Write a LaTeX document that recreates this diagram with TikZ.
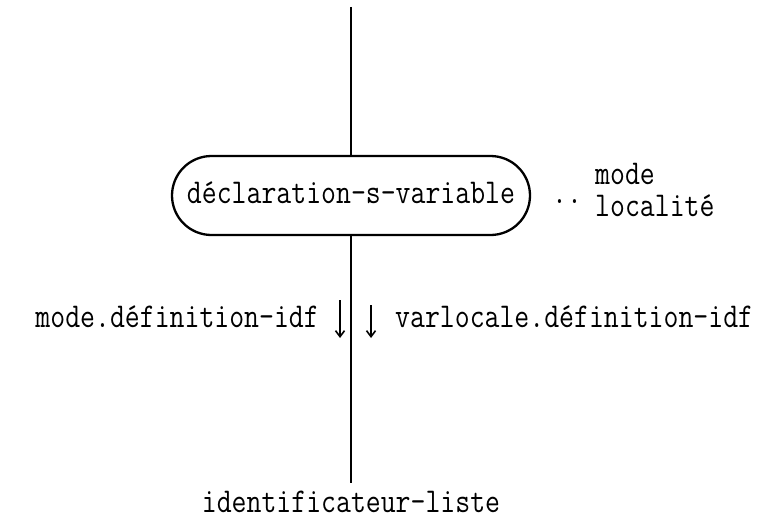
\documentclass[tikz,border=0pt]{standalone}
\usepackage{graphicx}
\usetikzlibrary{arrows.meta}
\newcommand{\mytt}[1]{\scalebox{0.832}[1]{\fontsize{34.8}{40}\selectfont\ttfamily #1}}
\tikzset{
  mainline/.style={line width=2.6pt},
  boxnode/.style={draw, line width=2.3pt, rounded corners=39.5pt, minimum width=358pt, minimum height=79pt, inner sep=0pt, text height=20pt, text depth=5pt},
  lbl/.style={inner sep=0pt},
  flowarrow/.style={line width=1.8pt, -{Straight Barb[length=6pt,width=9pt,line width=1.6pt]}}
}
\begin{document}
\begin{tikzpicture}[x=1pt,y=-1pt]
\useasboundingbox (0,0) rectangle (770,519);
\coordinate (top) at (351,7);
\node[boxnode] (decl) at (351,195.5) {\mytt{déclaration-s-variable}};
\node[lbl, anchor=base west] (dots) at (552,203) {\mytt{..}};
\node[lbl, anchor=base west] (mode) at (595,184) {\mytt{mode}};
\node[lbl, anchor=base west] (loc) at (595,216) {\mytt{localité}};
\coordinate (bot) at (351,483);
\node[lbl, anchor=base] (idl) at (351,512) {\mytt{identificateur-liste}};
\node[lbl, anchor=base east] (lmode) at (319,327) {\mytt{mode.définition-idf}};
\node[lbl, anchor=base west] (lvar) at (395,327) {\mytt{varlocale.définition-idf}};
\coordinate (a1s) at (340,300);
\coordinate (a1e) at (340,338);
\coordinate (a2s) at (371,305);
\coordinate (a2e) at (371,338);
\draw[mainline] (top) -- (decl.north);
\draw[mainline] (decl.south) -- (bot);
\draw[flowarrow] (a1s) -- (a1e);
\draw[flowarrow] (a2s) -- (a2e);
\end{tikzpicture}
\end{document}
